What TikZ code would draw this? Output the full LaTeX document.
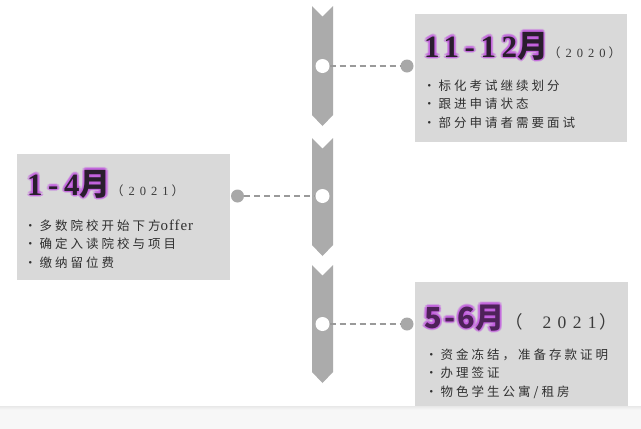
\documentclass[tikz,border=0pt]{standalone}
\usepackage{fontspec}
\setmainfont{Liberation Serif}
\newfontfamily\cjk{Noto Sans CJK SC}[LetterSpace=24]
\newfontfamily\titlelat{Liberation Serif}[LetterSpace=18]
\newfontfamily\titlecjk{Noto Sans CJK SC}[LetterSpace=18]
\newfontfamily\yearcjk{Noto Sans CJK SC}
\newfontfamily\yearlat{Liberation Serif}[LetterSpace=40]
\newfontfamily\yearlatb{Liberation Serif}[LetterSpace=36]
\newfontfamily\sanslat{Noto Sans CJK SC}[LetterSpace=8]
\definecolor{boxfill}{HTML}{D9D9D9}
\definecolor{chev}{HTML}{ABABAB}
\definecolor{dotc}{HTML}{A8A8A8}
\definecolor{linec}{HTML}{9A9A9A}
\definecolor{bodyc}{HTML}{303030}
\definecolor{titlec}{HTML}{2A1E2E}
\definecolor{titlec2}{HTML}{4E2259}
\definecolor{glowc}{HTML}{C25AE0}
\definecolor{yearc}{HTML}{3A3A3A}
\tikzset{
  box/.style={fill=boxfill, draw=none, inner sep=0pt},
  hole/.style={circle, fill=white, draw=none, minimum size=14pt, inner sep=0pt},
  dot/.style={circle, fill=dotc, draw=none, minimum size=13pt, inner sep=0pt},
  conn/.style={draw=linec, line width=1.4pt, dash pattern=on 6pt off 4pt},
  chevshape/.style={fill=chev, draw=none},
  bodytxt/.style={anchor=base west, inner sep=0pt, align=left, text=bodyc,
    font=\fontsize{12.5}{18.2}\cjk},
  titletxt/.style={anchor=base west, inner sep=0pt},
  glowtxt/.style={anchor=base west, inner sep=0pt, text=glowc, text opacity=0.3},
  yeartxt/.style={anchor=base west, inner sep=0pt, text=yearc}
}
\newcommand\glowtitle[4]{%
  \foreach \dx/\dy in {1.5/0,-1.5/0,0/1.5,0/-1.5,1.1/1.1,-1.1/1.1,1.1/-1.1,-1.1/-1.1,2.5/0,-2.5/0,0/2.5,0/-2.5,1.8/1.8,-1.8/1.8,1.8/-1.8,-1.8/-1.8}
    {\node[glowtxt, shift={(\dx,\dy)}] at #2 {#4};}
  \node[titletxt, text=#3] (#1) at #2 {#4};}
\newcommand\chevron[3]{% x-center, top, tip
  \fill[chevshape] (#1-10.5,#2) -- (#1,#2+10.5) -- (#1+10.5,#2)
    -- (#1+10.5,#3-11) -- (#1,#3) -- (#1-10.5,#3-11) -- cycle;}
\begin{document}
\begin{tikzpicture}[x=1pt,y=-1pt]
\useasboundingbox (0,0) rectangle (641,429);
\fill[white] (0,0) rectangle (641,429);
% bottom band
\fill[white!97!black] (0,406) rectangle (641,429);
\shade[top color=white!91!black, bottom color=white!97!black] (0,406) rectangle (641,410);

% timeline chevrons
\chevron{322.5}{6}{126}
\chevron{322.5}{138}{256}
\chevron{322.5}{265}{383}

% boxes
\node[box, minimum width=212pt, minimum height=128pt] (b1) at (521,78) {};
\node[box, minimum width=213pt, minimum height=126pt] (b2) at (123.5,217) {};
\node[box, minimum width=213pt, minimum height=124pt] (b3) at (521.5,344) {};

% holes and dots
\node[hole] (h1) at (322.5,66) {};
\node[hole] (h2) at (322.5,196) {};
\node[hole] (h3) at (322.5,324) {};
\node[dot] (d1) at (407,66) {};
\node[dot] (d2) at (237.5,196) {};
\node[dot] (d3) at (407,324) {};
\draw[conn] (h1) -- (d1);
\draw[conn] (d2) -- (h2);
\draw[conn] (h3) -- (d3);

% titles
\glowtitle{t1}{(424,57)}{titlec}{\fontsize{31}{31}\titlelat\bfseries 11-12\titlecjk\bfseries 月}
\node[yeartxt, font=\fontsize{12.5}{13}] (y1) at (548,57) {\yearcjk （\hspace{5pt}\yearlat 2020\yearcjk\hspace{3pt}）};
\glowtitle{t2}{(27,195)}{titlec}{\fontsize{31}{31}\titlelat\bfseries 1-4\titlecjk\bfseries 月}
\node[yeartxt, font=\fontsize{12.5}{13}] (y2) at (111,195) {\yearcjk （\hspace{5pt}\yearlat 2021\yearcjk\hspace{3pt}）};
\glowtitle{t3}{(424,328)}{titlec2}{\fontsize{29}{29}\sanslat\bfseries 5-6\titlecjk\bfseries 月}
\node[yeartxt, font=\fontsize{17.5}{18}] (y3) at (505,328) {\yearcjk （\hspace{20pt}\yearlatb 2021\yearcjk\hspace{3pt}）};

% body texts (base anchor = last line)
\node[bodytxt] (l1) at (423,127) {·\hspace{3pt}标化考试继续划分\\·\hspace{3pt}跟进申请状态\\·\hspace{3pt}部分申请者需要面试};
\node[bodytxt] (l2) at (24,267) {·\hspace{3pt}多数院校开始下方{\rmfamily\addfontfeature{LetterSpace=6}\fontsize{15}{18}\selectfont offer}\\·\hspace{3pt}确定入读院校与项目\\·\hspace{3pt}缴纳留位费};
\node[bodytxt] (l3) at (425,396) {·\hspace{3pt}资金冻结，准备存款证明\\·\hspace{3pt}办理签证\\·\hspace{3pt}物色学生公寓/租房};
\end{tikzpicture}
\end{document}
